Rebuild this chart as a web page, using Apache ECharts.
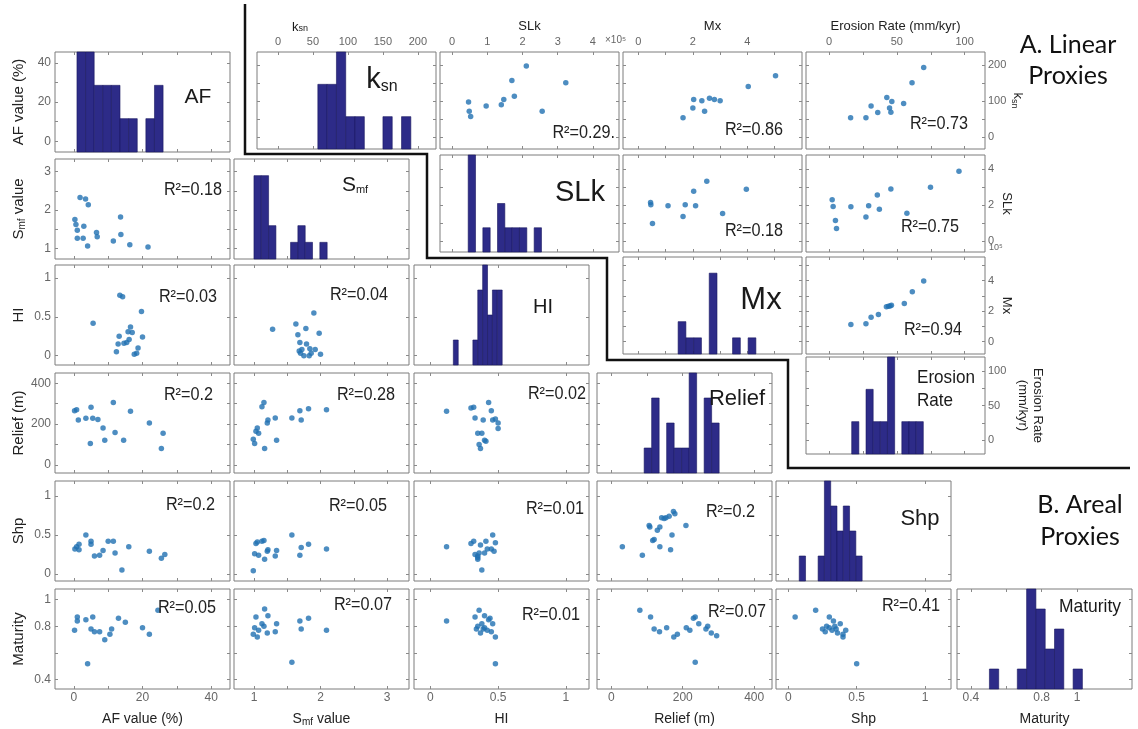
<!DOCTYPE html>
<html>
<head>
<meta charset="utf-8">
<script src="https://cdn.jsdelivr.net/npm/echarts@6/dist/echarts.min.js"></script>
<style>
  html, body { margin: 0; background: #fff; }
  #chart { width: 1138px; height: 729px; }
</style>
</head>
<body>
<div id="chart"></div>
<script>
// ---------- data: areal proxies, [column value, row value] per panel ----------
const afSmf = [[0.3,1.76],[0.6,1.63],[1.0,1.48],[1.0,1.27],[1.8,2.33],[2.7,1.27],[2.9,1.58],[3.4,2.29],[4.2,2.14],[4.0,1.07],[6.6,1.42],[6.8,1.31],[11.5,1.20],[13.6,1.82],[13.7,1.37],[16.3,1.10],[21.6,1.04]];
const afHi = [[5.6,0.42],[12.4,0.05],[12.9,0.15],[13.2,0.25],[13.4,0.78],[14.2,0.76],[14.6,0.16],[15.4,0.17],[15.8,0.31],[16.1,0.21],[16.5,0.37],[17.0,0.30],[17.6,0.02],[18.3,0.03],[18.7,0.10],[19.7,0.57],[20.0,0.24]];
const smfHi = [[1.28,0.34],[1.63,0.41],[1.66,0.27],[1.68,0.06],[1.69,0.17],[1.70,0.03],[1.72,0.08],[1.75,0.0],[1.78,0.35],[1.79,0.15],[1.83,0.0],[1.84,0.09],[1.86,0.03],[1.90,0.55],[1.92,0.08],[1.98,0.29],[2.0,0.02]];
const afRelief = [[0.2,265],[0.8,270],[1.3,220],[3.5,228],[4.8,105],[5.0,282],[5.5,228],[7,222],[8.5,180],[9,120],[11.5,305],[12,158],[14.5,120],[16.5,262],[22,205],[25.5,80],[26,155]];
const smfRelief = [[0.99,125],[1.01,105],[1.03,165],[1.05,180],[1.07,155],[1.12,285],[1.15,305],[1.16,80],[1.2,205],[1.21,220],[1.32,230],[1.34,120],[1.57,230],[1.69,265],[1.71,220],[1.82,275],[2.09,270]];
const hiRelief = [[0.12,262],[0.3,278],[0.32,282],[0.33,230],[0.35,155],[0.36,100],[0.37,80],[0.38,155],[0.39,220],[0.4,120],[0.41,115],[0.43,305],[0.45,265],[0.46,220],[0.48,225],[0.5,205],[0.5,178]];
const afShp = [[0.3,0.32],[0.8,0.35],[1.5,0.38],[1.5,0.31],[3.5,0.5],[5,0.42],[5,0.38],[6,0.23],[7.5,0.24],[8.5,0.3],[10,0.42],[11.5,0.42],[12,0.27],[14,0.05],[16,0.35],[22,0.29],[25.5,0.2],[26.5,0.25]];
const smfShp = [[0.99,0.04],[1.01,0.26],[1.03,0.39],[1.05,0.41],[1.07,0.24],[1.12,0.42],[1.15,0.43],[1.16,0.19],[1.2,0.29],[1.21,0.31],[1.32,0.23],[1.34,0.30],[1.57,0.5],[1.69,0.24],[1.71,0.34],[1.82,0.38],[2.09,0.32]];
const hiShp = [[0.12,0.35],[0.3,0.39],[0.32,0.42],[0.33,0.25],[0.35,0.23],[0.35,0.19],[0.36,0.27],[0.37,0.37],[0.38,0.05],[0.4,0.27],[0.41,0.42],[0.42,0.32],[0.45,0.32],[0.46,0.5],[0.47,0.29],[0.48,0.4],[0.35,0.21]];
const reliefShp = [[31,0.35],[87,0.24],[106,0.62],[108,0.60],[116,0.43],[120,0.44],[129,0.56],[136,0.35],[136,0.60],[141,0.72],[148,0.71],[153,0.72],[162,0.74],[166,0.31],[170,0.50],[174,0.80],[178,0.77],[209,0.62]];
const afMat = [[0.2,0.77],[1,0.87],[1,0.84],[3.5,0.85],[4,0.52],[5,0.78],[5.5,0.87],[6,0.76],[7.5,0.76],[9,0.7],[10.5,0.74],[11,0.78],[13,0.86],[15,0.83],[20,0.79],[22,0.74],[24.5,0.92]];
const smfMat = [[0.99,0.74],[1.01,0.79],[1.03,0.87],[1.05,0.72],[1.07,0.77],[1.12,0.82],[1.15,0.8],[1.16,0.93],[1.2,0.75],[1.21,0.88],[1.32,0.76],[1.34,0.82],[1.57,0.53],[1.69,0.84],[1.71,0.78],[1.82,0.86],[2.09,0.77]];
const hiMat = [[0.12,0.84],[0.33,0.87],[0.34,0.78],[0.35,0.8],[0.36,0.92],[0.37,0.75],[0.38,0.82],[0.39,0.78],[0.4,0.88],[0.42,0.77],[0.43,0.85],[0.45,0.76],[0.46,0.82],[0.48,0.72],[0.48,0.52],[0.4,0.79],[0.44,0.86]];
const reliefMat = [[80,0.92],[110,0.87],[120,0.78],[135,0.76],[155,0.79],[175,0.72],[185,0.74],[210,0.79],[220,0.77],[230,0.86],[235,0.87],[235,0.53],[265,0.78],[270,0.8],[280,0.75],[295,0.73],[245,0.82]];
const shpMat = [[0.05,0.87],[0.2,0.92],[0.25,0.78],[0.27,0.76],[0.28,0.8],[0.3,0.87],[0.32,0.77],[0.33,0.84],[0.35,0.78],[0.36,0.75],[0.38,0.82],[0.4,0.74],[0.4,0.72],[0.42,0.77],[0.5,0.52],[0.3,0.79],[0.34,0.8]];

// ---------- data: linear proxies ----------
const ksnSlk = [[0.47,97],[0.49,72],[0.53,57],[0.97,86],[1.40,90],[1.47,104],[1.70,157],[1.77,113],[2.11,197],[2.56,72],[3.23,151]];
const ksnMx = [[1.64,54],[2.0,81],[2.03,104],[2.33,101],[2.43,72],[2.61,108],[2.79,104],[3.0,101],[4.03,140],[5.03,170]];
const ksnEro = [[15.9,54],[27.2,54],[31,86],[35.9,68],[42.6,110],[44.6,81],[45.6,69],[46.3,99],[55,93],[61.2,151],[69.8,193]];
const slkMx = [[0.45,2.16],[0.46,2.03],[0.52,0.98],[1.09,1.97],[1.64,1.37],[1.72,2.03],[2.03,2.78],[2.10,1.97],[2.51,3.34],[3.09,1.54],[3.96,2.89]];
const slkEro = [[2.3,2.31],[3.0,1.93],[4.7,1.16],[5.5,0.71],[16.1,1.92],[27.2,1.35],[29.2,1.97],[35.6,2.57],[37.1,1.78],[45.6,2.91],[57.4,1.56],[74.8,3.0],[95.8,3.9]];
const mxEro = [[16.1,1.11],[27.2,1.16],[31,1.6],[36.4,1.78],[42.3,2.29],[43.8,2.31],[45,2.33],[46,2.38],[55.5,2.49],[61.4,3.27],[69.8,3.98]];

// ---------- histograms: [first edge, last edge] and counts of 10 bins ----------
const afHistRange = [0.9, 26.0], afHistCounts = [3,3,2,2,2,1,1,0,1,2];
const smfHistRange = [1.0, 2.1], smfHistCounts = [5,5,2,0,0,1,2,1,0,1];
const hiHistRange = [0.17, 0.53], hiHistCounts = [1,0,0,0,1,3,4,2,3,3];
const reliefHistRange = [92, 302], reliefHistCounts = [1,3,0,2,1,1,4,0,3,2];
const shpHistRange = [0.08, 0.54], shpHistCounts = [1,0,0,1,4,3,2,3,2,1];
const matHistRange = [0.505, 1.03], matHistCounts = [1,0,0,1,5,4,2,3,0,1];
const ksnHistRange = [57, 190], ksnHistCounts = [2,2,3,1,1,0,0,1,0,1];
const slkHistRange = [0.46, 2.54], slkHistCounts = [4,0,1,0,2,1,1,1,0,1];
const mxHistRange = [1.46, 4.31], mxHistCounts = [2,1,1,0,5,0,0,1,0,1];
const eroHistRange = [16.7, 69.5], eroHistCounts = [1,0,2,1,1,3,0,1,1,1];

// R² annotations
const r2Lower = ['0.18','0.03','0.04','0.2','0.28','0.02','0.2','0.05','0.01','0.2','0.05','0.07','0.01','0.07','0.41'];
const r2Upper = ['0.29.','0.86','0.73','0.18','0.75','0.94'];

// ---------- tick values and tick labels per variable ----------
const afTicks = [0,10,20,30,40], afLabels = [0,20,40];
const smfTicks = [1,1.5,2,2.5,3], smfLabels = [1,2,3];
const hiTicks = [0,0.5,1], hiLabels = [0,0.5,1];
const reliefTicks = [0,100,200,300,400], reliefLabels = [0,200,400];
const shpTicks = [0,0.5,1], shpLabels = [0,0.5,1];
const matTicks = [0.4,0.6,0.8,1], matLabels = [0.4,0.8,1];
const ksnTicks = [0,50,100,150,200], ksnLabels = [0,50,100,150,200], ksnRightLabels = [0,100,200];
const slkTicks = [0,1,2,3,4], slkLabels = [0,1,2,3,4], slkRightLabels = [0,2,4];
const mxTicks = [0,1,2,3,4,5], mxLabels = [0,2,4];
const eroTicks = [0,25,50,75,100], eroLabels = [0,50,100];

// axis extents (x when used as column, y when used as row)
const scales = {
  AF:     {x: [-5.5, 45.5], y: [-5.5, 45.5], ticks: afTicks, labels: afLabels},
  Smf:    {x: [0.70, 3.33], y: [0.73, 3.33], ticks: smfTicks, labels: smfLabels},
  HI:     {x: [-0.12, 1.17], y: [-0.12, 1.17], ticks: hiTicks, labels: hiLabels},
  Relief: {x: [-40, 450], y: [-40, 450], ticks: reliefTicks, labels: reliefLabels},
  Shp:    {x: [-0.09, 1.19], y: [-0.09, 1.19], ticks: shpTicks, labels: shpLabels},
  Mat:    {x: [0.322, 1.31], y: [0.33, 1.08], ticks: matTicks, labels: matLabels},
  ksn:    {x: [-30, 226], y: [-33, 236], ticks: ksnTicks, labels: ksnLabels, ylabels: ksnRightLabels},
  SLk:    {x: [-0.34, 4.74], y: [-0.6, 4.8], ticks: slkTicks, labels: slkLabels, ylabels: slkRightLabels},
  Mx:     {x: [-0.56, 6.0], y: [-0.82, 5.55], ticks: mxTicks, labels: mxLabels},
  Ero:    {x: [-17, 115], y: [-20, 120], ticks: eroTicks, labels: eroLabels}
};

const FONT = '"Liberation Sans", Arial, sans-serif';
const TITLE = 'Lato, "Open Sans", sans-serif';

const lowerVars = ['AF', 'Smf', 'HI', 'Relief', 'Shp', 'Mat'];
const lowerCols = [55, 234, 414, 597, 776, 957], lowerW = 175;
const lowerRows = [52, 159, 265, 373, 481, 589], lowerH = 100;
const upperVars = ['ksn', 'SLk', 'Mx', 'Ero'];
const upperCols = [257, 440, 623, 806], upperW = 179;
const upperRows = [52, 155, 257, 357], upperH = 97;

const lowerPairs = {
  'AF-Smf': afSmf, 'AF-HI': afHi, 'Smf-HI': smfHi,
  'AF-Relief': afRelief, 'Smf-Relief': smfRelief, 'HI-Relief': hiRelief,
  'AF-Shp': afShp, 'Smf-Shp': smfShp, 'HI-Shp': hiShp, 'Relief-Shp': reliefShp,
  'AF-Mat': afMat, 'Smf-Mat': smfMat, 'HI-Mat': hiMat, 'Relief-Mat': reliefMat, 'Shp-Mat': shpMat
};
const upperPairs = {'SLk-ksn': ksnSlk, 'Mx-ksn': ksnMx, 'Ero-ksn': ksnEro, 'Mx-SLk': slkMx, 'Ero-SLk': slkEro, 'Ero-Mx': mxEro};
const hists = {
  AF: [afHistRange, afHistCounts, 3], Smf: [smfHistRange, smfHistCounts, 6], HI: [hiHistRange, hiHistCounts, 4],
  Relief: [reliefHistRange, reliefHistCounts, 4], Shp: [shpHistRange, shpHistCounts, 4], Mat: [matHistRange, matHistCounts, 5],
  ksn: [ksnHistRange, ksnHistCounts, 3], SLk: [slkHistRange, slkHistCounts, 4], Mx: [mxHistRange, mxHistCounts, 6], Ero: [eroHistRange, eroHistCounts, 3]
};

function subRich(size) {
  return {n: {fontSize: size, color: '#222', fontFamily: FONT},
          s: {fontSize: Math.round(size * 0.68), color: '#222', fontFamily: FONT, verticalAlign: 'bottom', padding: [6, 0, 0, 0]}};
}
const lowerNames = {AF: 'AF value (%)', Smf: '{n|S}{s|mf}{n| value}', HI: 'HI', Relief: 'Relief (m)', Shp: 'Shp', Mat: 'Maturity'};
const topNames = {ksn: '', SLk: 'SLk', Mx: 'Mx', Ero: 'Erosion Rate (mm/kyr)'};
const rightNames = {ksn: '{n|k}{s|sn}', SLk: 'SLk', Mx: 'Mx', Ero: 'Erosion Rate\n(mm/kyr)'};

const grids = [], xAxis = [], yAxis = [], series = [];

function axis(gi, sc, dim, pos, extra) {
  const r = sc[dim];
  const list = dim === 'y' && sc.ylabels ? sc.ylabels : sc.labels;
  const a = {
    type: 'value', gridIndex: gi, position: pos, min: r[0], max: r[1],
    axisLine: {show: false, onZero: false}, splitLine: {show: false},
    axisTick: {show: true, inside: true, length: 3, customValues: sc.ticks, lineStyle: {color: '#8a8a8a'}},
    axisLabel: {show: !!extra, customValues: list, color: '#666', fontSize: 12, fontFamily: FONT, margin: 4,
      formatter: v => String(v)}
  };
  if (extra && extra.name !== undefined) {
    const ns = extra.nameSize || 13;
    a.name = extra.name;
    a.nameLocation = 'middle';
    a.nameGap = extra.gap;
    if (extra.rotate !== undefined) a.nameRotate = extra.rotate;
    a.nameTextStyle = {color: '#222', fontSize: ns, fontFamily: FONT, rich: subRich(ns), lineHeight: ns + 2};
  }
  if (extra && extra.margin !== undefined) a.axisLabel.margin = extra.margin;
  if (extra && extra.size !== undefined) a.axisLabel.fontSize = extra.size;
  return a;
}

function panel(box, xs, ys, o) {
  const gi = grids.length;
  grids.push({left: box[0], top: box[1], width: box[2], height: box[3], show: true, borderColor: '#7c7c7c', borderWidth: 1});
  const xi = xAxis.length;
  xAxis.push(axis(gi, xs, 'x', 'bottom', o.bottom));
  xAxis.push(axis(gi, xs, 'x', 'top', o.top));
  const yi = yAxis.length;
  yAxis.push(axis(gi, ys, 'y', 'left', o.left));
  yAxis.push(axis(gi, ys, 'y', 'right', o.right));
  return {gi, xi, yi};
}

function scatter(box, xs, ys, data, o) {
  const p = panel(box, xs, ys, o);
  series.push({
    type: 'scatter', xAxisIndex: p.xi, yAxisIndex: p.yi, data: data, symbolSize: 5.5,
    itemStyle: {color: '#2171b1'}, silent: true
  });
}

function hist(box, sc, h, o) {
  const p = panel(box, sc, sc, o);
  const ci = yAxis.length;
  yAxis.push({type: 'value', gridIndex: p.gi, min: 0, max: h[2], show: false});
  const range = h[0], counts = h[1];
  const w = (range[1] - range[0]) / counts.length;
  const bins = counts.map((n, i) => [range[0] + i * w, range[0] + (i + 1) * w, n]).filter(b => b[2] > 0);
  series.push({
    type: 'custom', xAxisIndex: p.xi, yAxisIndex: ci, data: bins, silent: true,
    encode: {x: [0, 1], y: 2},
    renderItem: (params, api) => {
      const a = api.coord([api.value(0), api.value(2)]);
      const b = api.coord([api.value(1), 0]);
      return {type: 'rect', shape: {x: a[0], y: a[1], width: b[0] - a[0], height: b[1] - a[1]},
        style: {fill: '#2d2b88', stroke: '#1a1860', lineWidth: 0.6}};
    }
  });
}

// lower-left block: areal proxies
lowerVars.forEach((yv, r) => {
  lowerVars.forEach((xv, c) => {
    if (c > r) return;
    const box = [lowerCols[c], lowerRows[r], lowerW, lowerH];
    const o = {};
    if (r === 5) o.bottom = {name: lowerNames[xv], gap: 22, margin: 3, nameSize: 14};
    if (c === 0) o.left = {name: lowerNames[yv], gap: 28, rotate: 90, nameSize: 15};
    if (c === r) hist(box, scales[xv], hists[xv], o);
    else scatter(box, scales[xv], scales[yv], lowerPairs[xv + '-' + yv], o);
  });
});

// upper-right block: linear proxies
upperVars.forEach((yv, r) => {
  upperVars.forEach((xv, c) => {
    if (c < r) return;
    const box = [upperCols[c], upperRows[r], upperW, upperH];
    const o = {};
    if (r === 0) o.top = topNames[xv] ? {name: topNames[xv], gap: 18, margin: 5, size: 11} : {margin: 5, size: 11};
    if (c === 3) {
      const gaps = {ksn: 22, SLk: 14, Mx: 14, Ero: 30};
      o.right = {name: rightNames[yv], gap: gaps[yv], rotate: -90, margin: 3, size: 11};
    }
    if (c === r) hist(box, scales[xv], hists[xv], o);
    else scatter(box, scales[xv], scales[yv], upperPairs[xv + '-' + yv], o);
  });
});

// annotation positions (right end x, centre y)
const r2LowerPos = [[222,190],[217,297],[388,295],[213,395],[395,395],[586,394],[215,505],[387,506],[584,509],[755,512],[216,608],[392,605],[580,615],[766,612],[940,606]];
const r2UpperPos = [[615,133],[783,130],[968,124],[783,231],[959,227],[962,330]];

const graphic = [];
function txt(x, y, text, size, extra, tf) {
  graphic.push(Object.assign({type: 'text', x: x, y: y, silent: true, z: 10,
    style: Object.assign({text: text, fontSize: size, fontFamily: FONT, fill: '#1a1a1a', align: 'center', verticalAlign: 'middle'}, extra || {})}, tf || {}));
}
r2Lower.forEach((v, i) => txt(r2LowerPos[i][0], r2LowerPos[i][1], 'R²=' + v, 18, {align: 'right', fill: '#222'}, {scaleX: 0.9}));
r2Upper.forEach((v, i) => txt(r2UpperPos[i][0], r2UpperPos[i][1], 'R²=' + v, 18, {align: 'right', fill: '#222'}, {scaleX: 0.9}));

// diagonal labels
txt(198, 97, 'AF', 21);
txt(382, 80, '{k|k}{s|sn}', 28, {rich: {k: {fontSize: 29, fontFamily: FONT}, s: {fontSize: 16, fontFamily: FONT, verticalAlign: 'bottom'}}});
txt(355, 185, '{k|S}{s|mf}', 21, {rich: {k: {fontSize: 21, fontFamily: FONT}, s: {fontSize: 11, fontFamily: FONT, verticalAlign: 'bottom'}}});
txt(580, 193, 'SLk', 29);
txt(543, 307, 'HI', 20);
txt(761, 300, 'Mx', 31);
txt(737, 399, 'Relief', 22);
txt(917, 389, 'Erosion\nRate', 19, {align: 'left', lineHeight: 23}, {scaleX: 0.9});
txt(920, 519, 'Shp', 22);
txt(1090, 607, 'Maturity', 19, null, {scaleX: 0.92});

// axis extras
txt(300, 27, '{k|k}{s|sn}', 12, {rich: {k: {fontSize: 13, fontFamily: FONT}, s: {fontSize: 9, fontFamily: FONT, verticalAlign: 'bottom'}}});
txt(605, 40, '×10⁵', 10, {align: 'left', fill: '#666'});
txt(989, 248, '10⁵', 9, {align: 'left', fill: '#666'});

// block titles
txt(1068, 60, 'A. Linear\nProxies', 25, {fontFamily: TITLE, lineHeight: 31, fill: '#111'});
txt(1080, 521, 'B. Areal\nProxies', 25, {fontFamily: TITLE, lineHeight: 32, fill: '#111'});

// staircase separating the two blocks
graphic.push({type: 'polyline', silent: true, z: 5,
  shape: {points: [[245,4],[245,154],[427,154],[427,258],[607,258],[607,360],[788,360],[788,468],[1130,468]]},
  style: {stroke: '#111', lineWidth: 2.5, fill: null}});

const chart = echarts.init(document.getElementById('chart'));
chart.setOption({
  animation: false,
  backgroundColor: '#fff',
  grid: grids,
  xAxis: xAxis,
  yAxis: yAxis,
  series: series,
  graphic: graphic
});
</script>
</body>
</html>
